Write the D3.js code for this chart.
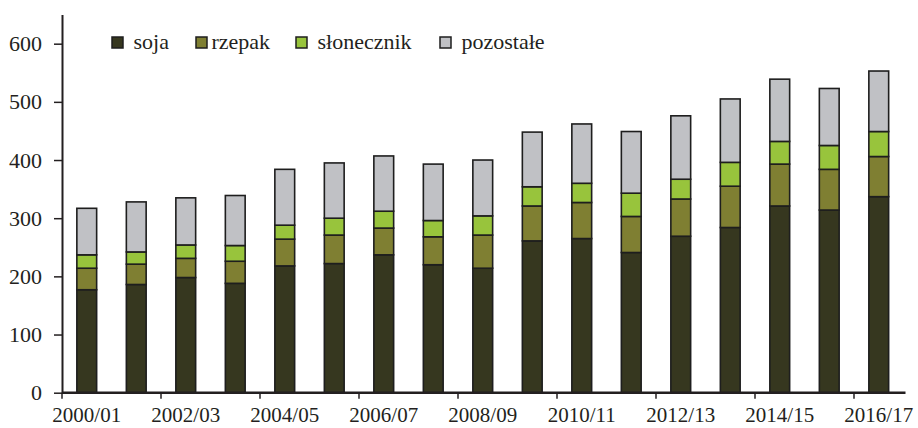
<!DOCTYPE html>
<html>
<head>
<meta charset="utf-8">
<script src="https://cdn.jsdelivr.net/npm/d3@7"></script>
</head>
<body style="margin:0">
<svg id="chart" width="918" height="428"></svg>
<script>
var years = ["2000/01","2001/02","2002/03","2003/04","2004/05","2005/06","2006/07","2007/08","2008/09",
             "2009/10","2010/11","2011/12","2012/13","2013/14","2014/15","2015/16","2016/17"];
var soja       = [177,186,198,188,218,222,237,220,214,261,265,241,269,284,321,314,337];
var rzepak     = [37,35,33,38,46,49,46,48,57,60,62,62,64,71,72,70,69];
var slonecznik = [23,21,23,27,24,29,29,28,33,33,33,40,34,41,39,41,43];
var pozostale  = [80,86,81,86,96,95,95,97,96,94,102,106,109,109,107,98,104];
var seriesNames = ["soja","rzepak","słonecznik","pozostałe"];
var colors = ["#36371f","#7f7f32","#98c43c","#c0c1c5"];
var yTicks = [0,100,200,300,400,500,600];

(function() {
    var left = 62, right = 903.5, bottom = 392.7, top = 14.6;
    var font = "'Liberation Serif'";

    var rows = years.map(function(y, i) {
        return { year: y, "soja": soja[i], "rzepak": rzepak[i], "słonecznik": slonecznik[i], "pozostałe": pozostale[i] };
    });
    var stacked = d3.stack().keys(seriesNames)(rows);

    var x = d3.scaleBand().domain(years).range([left, right])
        .paddingInner(0.6).paddingOuter(0.3);
    var y = d3.scaleLinear().domain([0, 650]).range([bottom, top]);
    var color = d3.scaleOrdinal().domain(seriesNames).range(colors);

    var svg = d3.select("#chart");

    // bars
    svg.append("g").selectAll("g")
        .data(stacked)
        .join("g")
          .attr("fill", function(d) { return color(d.key); })
        .selectAll("rect")
        .data(function(d) { return d; })
        .join("rect")
          .attr("x", function(d) { return x(d.data.year); })
          .attr("y", function(d) { return y(d[1]); })
          .attr("width", x.bandwidth())
          .attr("height", function(d) { return y(d[0]) - y(d[1]); })
          .attr("stroke", "#1e1e1e")
          .attr("stroke-width", 1.6);

    // y axis
    var yAxis = svg.append("g")
        .attr("transform", "translate(" + left + ",0)")
        .call(d3.axisLeft(y).tickValues(yTicks).tickSize(8).tickSizeOuter(0).tickPadding(12));
    yAxis.select(".domain").attr("stroke", "#231f20").attr("stroke-width", 2);
    yAxis.selectAll(".tick line").attr("stroke", "#231f20").attr("stroke-width", 1.5);
    yAxis.selectAll("text")
        .style("font-family", font)
        .style("font-size", "22px")
        .style("fill", "#231f20");

    // x axis: labels under every other bar, ticks between pairs
    var xAxis = svg.append("g")
        .attr("transform", "translate(0," + bottom + ")")
        .call(d3.axisBottom(x).tickSize(0).tickSizeOuter(0).tickPadding(14)
            .tickFormat(function(d, i) { return i % 2 === 0 ? d : ""; }));
    xAxis.select(".domain").attr("stroke", "#231f20").attr("stroke-width", 2.5)
        .attr("d", "M" + left + ",0H" + (right + 2));
    xAxis.selectAll("text")
        .style("font-family", font)
        .style("font-size", "21px")
        .style("fill", "#231f20");

    var edge = x.step() * x.paddingOuter();
    xAxis.selectAll(".boundary")
        .data(years.filter(function(d, i) { return i % 2 === 0; }))
        .join("line")
          .attr("class", "boundary")
          .attr("x1", function(d) { return x(d) - edge; })
          .attr("x2", function(d) { return x(d) - edge; })
          .attr("y1", 0).attr("y2", 6)
          .attr("stroke", "#231f20").attr("stroke-width", 1.5);

    // legend
    var legendX = [112, 196, 296, 440];
    var legend = svg.append("g")
        .selectAll("g")
        .data(seriesNames)
        .join("g")
          .attr("transform", function(d, i) { return "translate(" + legendX[i] + ",37)"; });
    legend.append("rect")
        .attr("width", 11).attr("height", 11)
        .attr("fill", function(d) { return color(d); })
        .attr("stroke", "#1e1e1e").attr("stroke-width", 1.5);
    legend.append("text")
        .attr("x", function(d, i) { return i === 1 ? 15.5 : 21.5; })
        .attr("y", 12)
        .style("font-family", font)
        .style("font-size", "22px")
        .style("fill", "#231f20")
        .text(function(d) { return d; });
})();
</script>
</body>
</html>
